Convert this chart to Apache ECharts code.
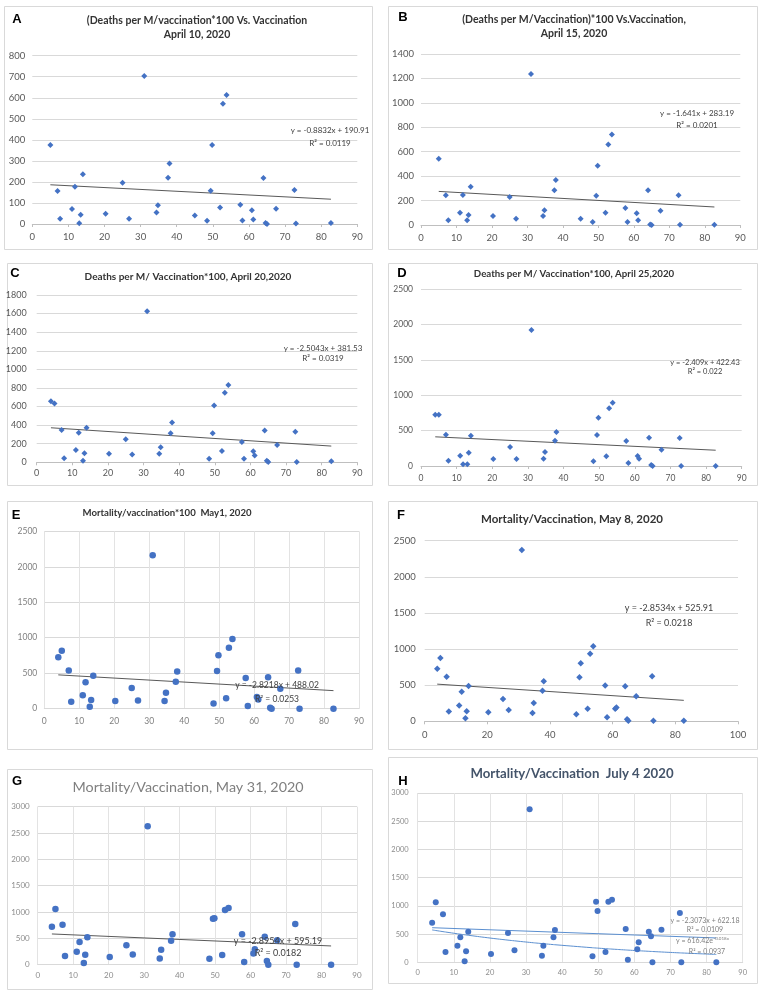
<!DOCTYPE html>
<html>
<head>
<meta charset="utf-8">
<script src="https://cdn.jsdelivr.net/npm/echarts@6/dist/echarts.min.js"></script>
<style>
  html, body { margin: 0; padding: 0; background: #fff; }
  #chart { width: 764px; height: 991px; }
</style>
</head>
<body>
<div id="chart"></div>
<script>
// vaccination coverage of each country (x), same order for every panel
const vaccination = [4, 5, 7, 7.7, 11, 11.8, 13, 13.4, 14, 20.3, 25, 26.8, 31, 34.4, 34.8, 37.6, 38, 45,
  48.4, 49.4, 49.8, 52, 52.8, 53.8, 57.6, 58.2, 60.8, 61.2, 64, 64.6, 65, 67.5, 72.6, 73, 82.7];

// y values per panel (null = country not plotted in that panel)
const deathsApr10 = [null, 375, 157, 25, 71, 177, 3, 44, 236, 49, 196, 25, 703, 55, 89, 220, 288, 40,
  16, 158, 375, 78, 572, 613, 92, 17, 65, 21, 219, 5, 0, 73, 162, 2, 5];
const deathsApr15 = [null, 543, 243, 38, 101, 246, 38, 82, 314, 74, 229, 52, 1236, 74, 120, 284, 368, 52,
  25, 240, 486, 101, 660, 740, 139, 25, 96, 38, 284, 5, 0, 117, 243, 2, 3];
const deathsApr20 = [657, 632, 348, 43, 133, 319, 18, 97, 373, 93, 248, 83, 1626, 93, 162, 312, 427, null,
  39, 312, 610, 122, 747, 833, 219, 39, 118, 72, 341, 18, 4, 185, 330, 4, 11];
const deathsApr25 = [726, 726, 443, 75, 146, 24, 24, 189, 429, 99, 269, 99, 1925, 104, 198, 358, 481, null,
  66, 439, 684, 137, 816, 896, 354, 42, 142, 104, 401, 14, 0, 231, 396, 0, 0];
const mortalityMay1 = [724, 818, 540, 99, 188, 371, 28, 122, 465, 108, 291, 117, 2162, 108, 226, 381, 526, null,
  75, 531, 752, 146, 860, 982, 432, 38, 165, 130, 442, 14, 0, 282, 540, 0, 0];
const mortalityMay8 = [729, 876, 618, 134, 217, 410, 42, 138, 489, 125, 309, 157, 2371, 115, 254, 424, 553, null,
  97, 609, 803, 175, 936, 1038, 494, 55, 175, 190, 484, 28, 9, 346, 623, 9, 9];
const mortalityMay31 = [722, 1057, 760, 165, 247, 430, 32, 190, 519, 146, 367, 196, 2627, 120, 285, 456, 576, null,
  114, 873, 880, 184, 1038, 1076, 576, 51, 215, 291, 532, 70, 0, 462, 772, 0, 0];
const mortalityJul4 = [703, 1063, 850, 183, 295, 443, 18, 195, 543, 148, 520, 213, 2711, 118, 295, 443, 573, null,
  106, 1075, 910, 183, 1075, 1110, 591, 47, 230, 354, 543, 461, 0, 579, 874, 0, 0];

// fitted trend lines printed on each panel
const trendSlope = [-0.8832, -1.641, -2.5043, -2.409, -2.8218, -2.8534, -2.8954, -2.3073];
const trendIntercept = [190.91, 283.19, 381.53, 422.43, 488.02, 525.91, 595.19, 622.18];
const trendR2 = ['0.0119', '0.0201', '0.0319', '0.022', '0.0253', '0.0218', '0.0182', '0.0109'];
const expCoef = 616.42, expRate = -0.018, expR2 = '0.0937';

const letters = ['A', 'B', 'C', 'D', 'E', 'F', 'G', 'H'];
const titles = [
  ['(Deaths per M/vaccination*100 Vs. Vaccination', 'April 10, 2020'],
  ['(Deaths per M/Vaccination)*100 Vs.Vaccination,', 'April 15, 2020'],
  ['Deaths per M/ Vaccination*100, April 20,2020'],
  ['Deaths per M/ Vaccination*100, April 25,2020'],
  ['Mortality/vaccination*100  May1, 2020'],
  ['Mortality/Vaccination, May 8, 2020'],
  ['Mortality/Vaccination, May 31, 2020'],
  ['Mortality/Vaccination  July 4 2020']
];
const yMax = [800, 1400, 1800, 2500, 2500, 2500, 3000, 3000];
const yStep = [100, 200, 200, 500, 500, 500, 500, 500];
const xMax = [90, 90, 90, 90, 90, 100, 90, 90];
const xStep = [10, 10, 10, 10, 10, 20, 10, 10];

const panelData = [deathsApr10, deathsApr15, deathsApr20, deathsApr25,
  mortalityMay1, mortalityMay8, mortalityMay31, mortalityJul4];

// layout of each panel
const layout = [
  { box: [4, 6, 368, 243], grid: [32.3, 55.7, 325, 168.3], title: [197, 21, 35], letter: [17, 19],
    eq: [330, 130, 143], tfont: 'bold 10.5px Lato', tcolor: '#333', sym: 'diamond', size: 6,
    lab: 9.5, labColor: '#595959', ym: 7, xm: 8, vgrid: false, eqFont: 8 },
  { box: [388, 6, 369, 243], grid: [421, 54, 319.3, 171], title: [574, 20, 34], letter: [403, 17],
    eq: [697, 113, 125], tfont: 'bold 10.5px Lato', tcolor: '#333', sym: 'diamond', size: 6,
    lab: 9.5, labColor: '#595959', ym: 7, xm: 8, vgrid: false, eqFont: 8 },
  { box: [7, 263, 365, 222], grid: [36.7, 295, 320.6, 167.3], title: [188, 277], letter: [15, 273],
    eq: [323, 348, 358], tfont: 'bold 10px Lato', tcolor: '#333', sym: 'diamond', size: 6,
    lab: 9, labColor: '#595959', ym: 10, xm: 6, vgrid: false, eqFont: 8 },
  { box: [388, 263, 369, 222], grid: [421, 289.3, 320.7, 176.7], title: [574, 274], letter: [402, 273],
    eq: [705, 363, 372], tfont: 'bold 9.7px Lato', tcolor: '#333', sym: 'diamond', size: 6,
    lab: 8.5, labColor: '#595959', ym: 8, xm: 8, vgrid: false, eqFont: 7.5 },
  { box: [7, 501, 365, 248], grid: [44.3, 531.3, 314.7, 177.4], title: [167, 513], letter: [16, 515],
    eq: [277, 685, 699], tfont: 'bold 9.6px Lato', tcolor: '#333', sym: 'circle', size: 6.5,
    lab: 8.5, labColor: '#7f7f7f', ym: 7, xm: 8, vgrid: true, eqFont: 8.5 },
  { box: [388, 501, 369, 248], grid: [424.7, 540.7, 313.3, 180.6], title: [572, 519], letter: [401, 515],
    eq: [669, 608, 623], tfont: 'bold 11.5px Lato', tcolor: '#333', sym: 'diamond', size: 6.5,
    lab: 9.5, labColor: '#595959', ym: 9, xm: 9, vgrid: false, eqFont: 9 },
  { box: [7, 769, 365, 220], grid: [37.7, 806.7, 319.3, 158], title: [188, 787], letter: [17, 781],
    eq: [278, 941, 953], tfont: '14.3px Lato', tcolor: '#7f7f7f', sym: 'circle', size: 6.5,
    lab: 8, labColor: '#8c8c8c', ym: 8, xm: 7, vgrid: true, eqFont: 9 },
  { box: [388, 757, 369, 226], grid: [417.7, 793, 325, 169.3], title: [572, 774], letter: [403, 781],
    eq: [705, 921, 930], tfont: 'bold 13.2px Lato', tcolor: '#44546a', sym: 'circle', size: 6,
    lab: 7.5, labColor: '#8c8c8c', ym: 9, xm: 6, vgrid: true, eqFont: 7 }
];

function pairs(ys) {
  return vaccination.map((x, i) => [x, ys[i]]).filter(p => p[1] !== null);
}

function textEl(x, y, text, font, fill, align) {
  return {
    type: 'text', x: x, y: y, silent: true, z: 10,
    style: { text: text, font: font, fill: fill,
      textAlign: align, textVerticalAlign: 'middle', align: align, verticalAlign: 'middle' }
  };
}

const grids = [], xAxes = [], yAxes = [], series = [], graphics = [];

layout.forEach((L, i) => {
  const g = L.grid;
  grids.push({ left: g[0], top: g[1], width: g[2], height: g[3] });
  const lightGrid = L.vgrid;
  xAxes.push({
    gridIndex: i, type: 'value', min: 0, max: xMax[i], interval: xStep[i],
    axisLine: { show: true, lineStyle: { color: lightGrid ? '#d9d9d9' : '#bfbfbf', width: 1 } },
    axisTick: { show: !lightGrid, length: 3, lineStyle: { color: '#bfbfbf' } },
    splitLine: { show: lightGrid, lineStyle: { color: '#e3e3e3' } },
    axisLabel: { color: L.labColor, fontSize: L.lab, fontFamily: 'Lato', margin: L.xm,
      formatter: v => String(v) }
  });
  yAxes.push({
    gridIndex: i, type: 'value', min: 0, max: yMax[i], interval: yStep[i],
    axisLine: { show: false }, axisTick: { show: false },
    splitLine: { show: true, lineStyle: { color: '#d9d9d9' } },
    axisLabel: { color: L.labColor, fontSize: L.lab, fontFamily: 'Lato', margin: L.ym,
      formatter: v => String(v) }
  });

  const pts = pairs(panelData[i]);
  series.push({
    type: 'scatter', xAxisIndex: i, yAxisIndex: i, data: pts,
    symbol: L.sym, symbolSize: L.size, itemStyle: { color: '#4472c4', opacity: 1 },
    clip: false, silent: true, z: 3
  });
  const xs = pts.map(p => p[0]);
  const x0 = Math.min(...xs), x1 = Math.max(...xs);
  series.push({
    type: 'line', xAxisIndex: i, yAxisIndex: i, symbol: 'none', silent: true, z: 2,
    lineStyle: { color: i === 7 ? '#5b8fd0' : '#595959', width: 1 },
    data: [[x0, trendSlope[i] * x0 + trendIntercept[i]], [x1, trendSlope[i] * x1 + trendIntercept[i]]]
  });
  if (i === 7) {
    series.push({
      type: 'line', xAxisIndex: i, yAxisIndex: i, symbol: 'none', silent: true, z: 2, smooth: true,
      lineStyle: { color: '#5b8fd0', width: 1 },
      data: pts.map(p => [p[0], expCoef * Math.exp(expRate * p[0])])
    });
  }

  // frame
  graphics.push({
    type: 'rect', silent: true, z: -10,
    shape: { x: L.box[0] + 0.5, y: L.box[1] + 0.5, width: L.box[2], height: L.box[3] },
    style: { fill: '#fff', stroke: '#d9d9d9', lineWidth: 1 }
  });
  graphics.push(textEl(L.letter[0], L.letter[1], letters[i], 'bold 13px "Liberation Sans"', '#000', 'center'));
  titles[i].forEach((t, k) => {
    graphics.push(textEl(L.title[0], L.title[1 + k], t, L.tfont, L.tcolor, 'center'));
  });

  // trend equation
  const eqColor = i === 7 ? '#7f7f7f' : '#404040';
  const eqText = 'y = ' + trendSlope[i] + 'x + ' + trendIntercept[i];
  graphics.push(textEl(L.eq[0], L.eq[1], eqText, L.eqFont + 'px Lato', eqColor, 'center'));
  graphics.push(textEl(L.eq[0], L.eq[2], 'R² = ' + trendR2[i], L.eqFont + 'px Lato', eqColor, 'center'));
  if (i === 7) {
    graphics.push(textEl(713, 941, 'y = ' + expCoef + 'e', L.eqFont + 'px Lato', eqColor, 'right'));
    graphics.push(textEl(713.5, 938.5, expRate + 'x', '4.5px Lato', eqColor, 'left'));
    graphics.push(textEl(707, 952, 'R² = ' + expR2, L.eqFont + 'px Lato', eqColor, 'center'));
  }
});

const chart = echarts.init(document.getElementById('chart'));
chart.setOption({
  animation: false,
  backgroundColor: '#fff',
  grid: grids,
  xAxis: xAxes,
  yAxis: yAxes,
  series: series,
  graphic: { elements: graphics }
});
</script>
</body>
</html>
